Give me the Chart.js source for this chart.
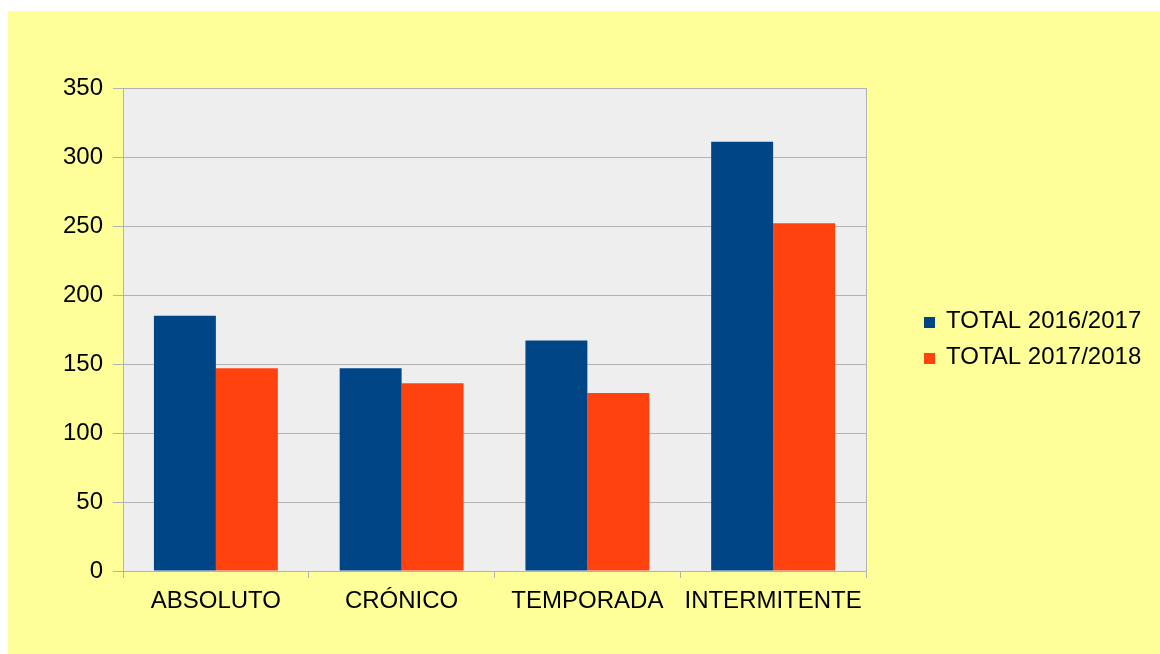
<!DOCTYPE html>
<html>
<head>
<meta charset="utf-8">
<script src="https://cdn.jsdelivr.net/npm/chart.js@4"></script>
<style>
  html, body { margin: 0; padding: 0; background: #ffffff; width: 1160px; height: 654px; overflow: hidden; }
  #wrap { position: absolute; left: 8px; top: 11px; width: 1152px; height: 643px; background: #ffff99; }
  canvas { display: block; }
</style>
</head>
<body>
<div id="wrap"><canvas id="c" width="1152" height="643"></canvas></div>
<script>
const categories = ['ABSOLUTO', 'CRÓNICO', 'TEMPORADA', 'INTERMITENTE'];
const seriesNames = ['TOTAL 2016/2017', 'TOTAL 2017/2018'];
const total2016_2017 = [185, 147, 167, 311];
const total2017_2018 = [147, 136, 129, 252];
const yTicks = [0, 50, 100, 150, 200, 250, 300, 350];

const FONT = 'Liberation Sans, Arial, sans-serif';
const GRID = '#b3b3b3';
const TEXT = '#000000';

const plotBg = {
  id: 'plotBg',
  beforeDraw(chart) {
    const { ctx, chartArea: a } = chart;
    ctx.save();
    ctx.fillStyle = '#eeeeee';
    ctx.fillRect(a.left, a.top, a.right - a.left, a.bottom - a.top);
    ctx.restore();
  },
  afterDatasetsDraw(chart) {
    const { ctx, chartArea: a } = chart;
    ctx.save();
    ctx.strokeStyle = GRID;
    ctx.lineWidth = 1;
    ctx.beginPath();
    ctx.moveTo(Math.round(a.right) + 0.5, a.top);
    ctx.lineTo(Math.round(a.right) + 0.5, a.bottom);
    ctx.stroke();
    ctx.restore();
  }
};

const sideLegend = {
  id: 'sideLegend',
  afterDraw(chart) {
    const { ctx } = chart;
    ctx.save();
    ctx.font = '24px ' + FONT;
    ctx.textBaseline = 'alphabetic';
    ctx.textAlign = 'left';
    chart.data.datasets.forEach((ds, i) => {
      const base = 317 + i * 36;
      ctx.fillStyle = ds.backgroundColor;
      ctx.fillRect(916, base - 11, 11, 11);
      ctx.fillStyle = TEXT;
      ctx.fillText(ds.label, 938, base);
    });
    ctx.restore();
  }
};

new Chart(document.getElementById('c'), {
  type: 'bar',
  data: {
    labels: categories,
    datasets: [
      { label: seriesNames[0], data: total2016_2017, backgroundColor: '#004586', borderWidth: 0 },
      { label: seriesNames[1], data: total2017_2018, backgroundColor: '#ff420e', borderWidth: 0 }
    ]
  },
  options: {
    responsive: false,
    devicePixelRatio: 1,
    animation: false,
    layout: { padding: { top: 77, right: 294, left: 0, bottom: 0 } },
    datasets: { bar: { categoryPercentage: 0.667, barPercentage: 1.0 } },
    plugins: { legend: { display: false }, tooltip: { enabled: false } },
    scales: {
      x: {
        offset: true,
        grid: { display: true, drawOnChartArea: false, drawTicks: true, tickLength: 7, color: GRID, offset: true },
        border: { display: true, color: GRID },
        ticks: { color: TEXT, font: { family: FONT, size: 24 }, padding: 9, maxRotation: 0, autoSkip: false },
        afterFit(scale) { scale.height = 83; }
      },
      y: {
        min: 0, max: 350,
        afterBuildTicks(scale) { scale.ticks = yTicks.map(v => ({ value: v })); },
        grid: { color: GRID, tickLength: 10, drawTicks: true },
        border: { display: true, color: GRID },
        ticks: { color: TEXT, font: { family: FONT, size: 24 }, padding: 10 },
        afterFit(scale) { scale.width = 115; }
      }
    }
  },
  plugins: [plotBg, sideLegend]
});
</script>
</body>
</html>
